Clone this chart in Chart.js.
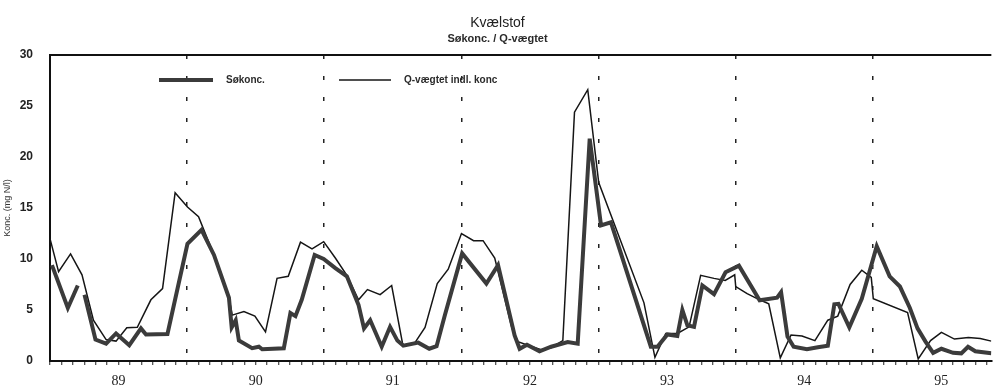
<!DOCTYPE html>
<html>
<head>
<meta charset="utf-8">
<title>Kvælstof</title>
<script src="https://cdn.jsdelivr.net/npm/chart.js@4/dist/chart.umd.min.js"></script>
<style>
  html, body { margin: 0; padding: 0; background: #fff; }
  #wrap { width: 995px; height: 391px; }
</style>
</head>
<body>
<div id="wrap"><canvas id="chart"></canvas></div>
<script>
// Maaneder regnes fra januar 1989 (0 = 1/1-89)
var yearLabels = ['89', '90', '91', '92', '93', '94', '95'];
var yTicks = [0, 5, 10, 15, 20, 25, 30];

// Søkonc. (null = hul i maaleserien)
var soMonths = [0.17, 1.56, 2.43, 2.7, 3.02, 3.98, 4.91, 5.78, 6.94, 7.96, 8.40, 10.28,
  12.03, 13.26, 14.35, 15.66, 15.9, 16.25, 16.53, 17.69, 18.28, 18.57, 20.46, 21.04,
  21.48, 22.03, 23.16, 23.95, 24.97, 25.98, 27.0, 27.48, 28.02, 29.03, 29.76, 30.4,
  30.92, 32.23, 33.19, 33.83, 34.56, 36.07, 38.19, 39.21, 40.66, 41.1, 41.74, 42.84,
  43.86, 45.31, 46.18, 47.23, 48.22, 49.09, 52.58, 53.16, 54.03, 54.9, 55.34, 55.78,
  56.36, 57.09, 58.11, 59.12, 60.29, 62.1, 63.63, 63.98, 64.54, 65.08, 66.24, 67.2,
  68.07, 68.64, 69.0, 69.95, 71.04, 72.35, 73.48, 74.38, 75.25, 75.92, 76.62, 77.29,
  78.01, 79.03, 79.75, 80.34, 80.98, 82.38];
var soConc = [9.4, 5.2, 7.4, null, 6.5, 2.1, 1.7, 2.7, 1.55, 3.2, 2.6, 2.65,
  11.5, 12.85, 10.4, 6.2, 3.3, 4.0, 2.0, 1.25, 1.4, 1.15, 1.25, 4.7,
  4.4, 6.0, 10.4, 10.0, 9.1, 8.3, 5.5, 3.2, 4.0, 1.4, 3.35, 2.0,
  1.5, 1.8, 1.2, 1.45, 4.5, 10.55, 7.6, 9.4, 2.5, 1.2, 1.6, 0.95,
  1.4, 1.85, 1.7, 21.8, 13.3, 13.6, 1.4, 1.4, 2.6, 2.45, 5.0, 3.5,
  3.35, 7.4, 6.55, 8.7, 9.35, 5.95, 6.2, 6.75, 2.4, 1.4, 1.15, 1.35,
  1.5, 5.55, 5.6, 3.3, 6.1, 11.25, 8.3, 7.3, 5.2, 3.2, 1.9, 0.8,
  1.2, 0.8, 0.75, 1.4, 0.95, 0.75];

// Q-vægtet indl. konc
var qMonths = [0, 0.75, 1.8, 2.8, 3.8, 4.91, 5.78, 6.72, 7.64, 8.83, 9.85, 10.95,
  12.03, 13.0, 14.27, 15.66, 15.95, 16.97, 17.93, 18.86, 19.87, 20.85, 21.92, 22.93,
  23.95, 24.97, 25.98, 27.0, 27.78, 28.89, 29.9, 30.88, 31.94, 32.82, 33.89, 34.85,
  36.01, 37.07, 37.9, 38.92, 40.43, 40.95, 41.82, 42.98, 43.86, 44.88, 45.9, 47.06,
  48.02, 51.98, 52.94, 53.89, 54.91, 55.93, 56.94, 58.11, 59.09, 59.92, 60.01, 61.01,
  62.1, 62.9, 63.91, 64.85, 65.81, 66.94, 68.07, 68.94, 70.02, 71.04, 71.87, 72.05,
  75.05, 75.98, 77.06, 78.01, 79.15, 80.37, 81.41, 82.38];
var qConc = [12.0, 8.75, 10.5, 8.45, 4.0, 2.1, 1.95, 3.25, 3.3, 6.0, 7.1, 16.5,
  15.1, 14.15, 10.6, 6.2, 4.5, 4.85, 4.4, 2.85, 8.1, 8.3, 11.65, 11.0,
  11.7, 10.1, 8.4, 6.0, 7.0, 6.5, 7.4, 1.55, 1.8, 3.3, 7.6, 9.0,
  12.5, 11.8, 11.8, 10.1, 3.2, 1.9, 1.55, 1.1, 1.3, 2.0, 24.4, 26.6,
  17.5, 5.7, 0.35, 2.7, 2.7, 3.35, 8.4, 8.1, 7.9, 8.45, 7.3, 6.6,
  6.0, 5.6, 0.3, 2.55, 2.45, 2.0, 4.0, 4.4, 7.5, 8.9, 8.2, 6.1,
  4.75, 0.2, 2.0, 2.8, 2.15, 2.3, 2.2, 1.95];

function toPoints(xs, ys) {
  return xs.map(function (x, i) { return { x: x, y: ys[i] }; });
}

// Øverste ramme + forklaring inde i plotfeltet
var frameAndLegend = {
  id: 'frameAndLegend',
  afterDraw: function (chart) {
    var ctx = chart.ctx;
    var a = chart.chartArea;
    ctx.save();
    ctx.strokeStyle = '#111';
    ctx.lineWidth = 2;
    ctx.beginPath();
    ctx.moveTo(a.left - 1, a.top);
    ctx.lineTo(a.right, a.top);
    ctx.stroke();

    var items = [
      { x0: a.left + 109, x1: a.left + 163, tx: a.left + 176 },
      { x0: a.left + 289, x1: a.left + 341, tx: a.left + 354 }
    ];
    var y = a.top + 25;
    ctx.font = 'bold 10px "Liberation Sans", Arial, sans-serif';
    ctx.textBaseline = 'middle';
    ctx.fillStyle = '#2a2a2a';
    chart.data.datasets.forEach(function (ds, i) {
      var it = items[i];
      ctx.strokeStyle = ds.borderColor;
      ctx.lineWidth = ds.borderWidth;
      ctx.beginPath();
      ctx.moveTo(it.x0, y);
      ctx.lineTo(it.x1, y);
      ctx.stroke();
      ctx.fillText(ds.label, it.tx, y);
    });
    ctx.restore();
  }
};

var ctx = document.getElementById('chart').getContext('2d');
var chart = new Chart(ctx, {
  type: 'line',
  data: {
    datasets: [{
      label: 'Søkonc.',
      data: toPoints(soMonths, soConc),
      borderColor: '#3b3b3b',
      borderWidth: 4,
      pointRadius: 0,
      tension: 0,
      spanGaps: false
    }, {
      label: 'Q-vægtet indl. konc',
      data: toPoints(qMonths, qConc),
      borderColor: '#151515',
      borderWidth: 1.5,
      pointRadius: 0,
      tension: 0
    }]
  },
  options: {
    responsive: true,
    maintainAspectRatio: false,
    animation: false,
    layout: { padding: 0 },
    plugins: {
      legend: { display: false },
      tooltip: { enabled: false },
      title: {
        display: true,
        text: 'Kvælstof',
        color: '#222',
        font: { family: '"Liberation Sans", Arial, sans-serif', size: 14, weight: 'normal' },
        padding: { top: 15, bottom: 1 }
      },
      subtitle: {
        display: true,
        text: 'Søkonc. / Q-vægtet',
        color: '#2a2a2a',
        font: { family: '"Liberation Sans", Arial, sans-serif', size: 11, weight: 'bold' },
        padding: { top: 0, bottom: 9 }
      }
    },
    scales: {
      x: {
        type: 'linear',
        min: 0,
        max: 82.38,
        afterBuildTicks: function (scale) {
          var t = [];
          for (var m = 0; m <= 82; m++) t.push({ value: m });
          scale.ticks = t;
        },
        afterFit: function (scale) { scale.height = 30; },
        ticks: {
          autoSkip: false,
          maxRotation: 0,
          padding: 8,
          color: '#222',
          font: { family: '"Liberation Serif", "Times New Roman", serif', size: 14 },
          callback: function (value) {
            if (value % 12 === 6) return yearLabels[(value - 6) / 12];
            return '';
          }
        },
        grid: {
          color: function (c) {
            var v = c.tick ? c.tick.value : 0;
            return (v > 0 && v % 12 === 0) ? '#222' : 'transparent';
          },
          lineWidth: 1.5,
          tickColor: '#222',
          tickWidth: 1,
          tickLength: 4,
          tickBorderDash: []
        },
        border: { display: true, color: '#111', width: 2, dash: [4, 17] }
      },
      y: {
        min: 0,
        max: 30,
        afterBuildTicks: function (scale) {
          scale.ticks = yTicks.map(function (v) { return { value: v }; });
        },
        afterFit: function (scale) { scale.width = 50; },
        ticks: {
          padding: 17,
          color: '#222',
          font: { family: '"Liberation Sans", Arial, sans-serif', size: 12, weight: 'bold' }
        },
        grid: { drawOnChartArea: false, drawTicks: false },
        border: { display: true, color: '#111', width: 2 },
        title: {
          display: true,
          text: 'Konc. (mg N/l)',
          color: '#333',
          padding: { top: 2, bottom: 0 },
          font: { family: '"Liberation Sans", Arial, sans-serif', size: 9 }
        }
      }
    }
  },
  plugins: [frameAndLegend]
});
</script>
</body>
</html>
